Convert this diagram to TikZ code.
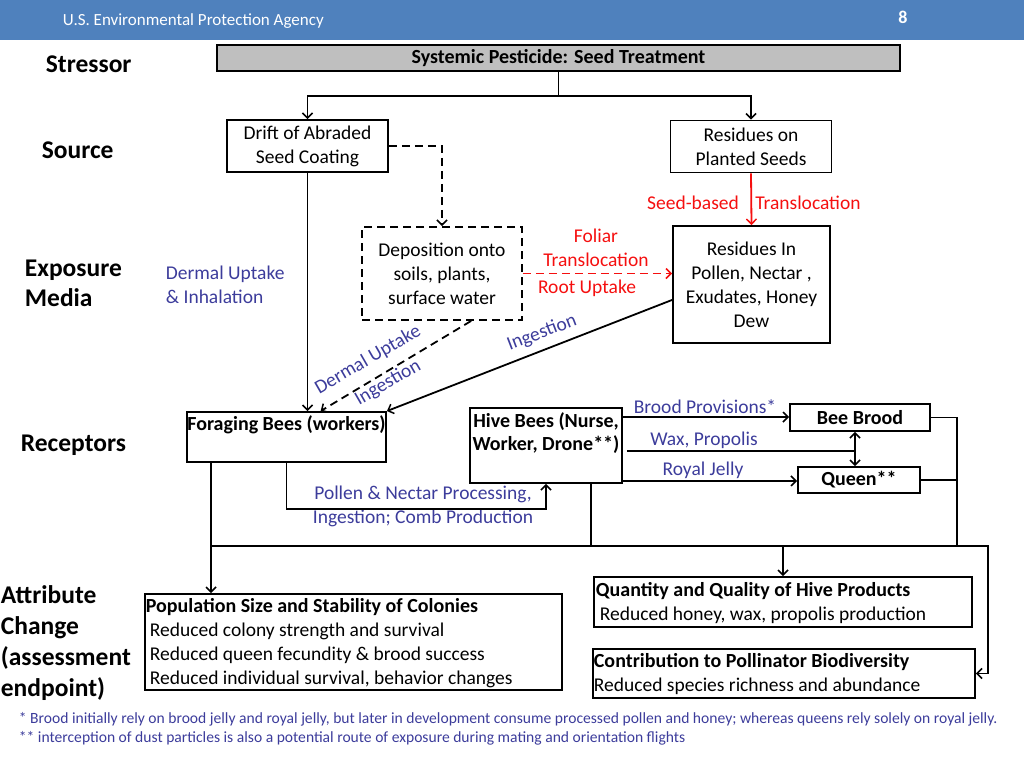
\documentclass[tikz,border=0pt]{standalone}
\usepackage{fontspec}
\setmainfont{Carlito}
\usetikzlibrary{arrows.meta,calc}
\definecolor{hdr}{RGB}{79,129,189}
\definecolor{lbl}{RGB}{60,60,155}
\definecolor{boxgray}{RGB}{191,191,191}
\definecolor{rd}{RGB}{245,15,15}
\newcommand\myfs[2]{\fontsize{#1}{#2}\selectfont}
\begin{document}
\begin{tikzpicture}[x=1pt,y=-1pt, line width=1.8pt,
 box/.style={draw, line width=1.9pt, inner sep=0pt, align=center, font=\myfs{19.5}{24}},
 arr/.style={-{Straight Barb[length=5pt,width=10pt,line width=1.5pt]}},
 dbl/.style={{Straight Barb[length=5pt,width=10pt,line width=1.5pt]}-{Straight Barb[length=5pt,width=10pt,line width=1.5pt]}},
 dsh/.style={dash pattern=on 8pt off 5pt},
 lab/.style={text=lbl, font=\myfs{19.5}{24}, inner sep=0pt},
 rlab/.style={text=rd, font=\myfs{19.5}{24}, inner sep=0pt},
 side/.style={font=\myfs{25.5}{30}\bfseries, inner sep=0pt, anchor=west, align=left},
 txt/.style={font=\myfs{19.5}{24}, inner sep=0pt, align=left},
 btxt/.style={font=\myfs{20}{23}\bfseries, inner sep=0pt, align=center}]

\useasboundingbox (0,0) rectangle (1024,768);
\fill[hdr] (0,0) rectangle (1024,40);
\node[anchor=west, text=white, font=\myfs{17}{18}, inner sep=0pt] (agency) at (62,21) {U.S. Environmental Protection Agency};
\node[text=white, font=\myfs{18}{18}\bfseries, inner sep=0pt] (pageno) at (903,17) {8};

% side labels
\node[side] (lstress) at (45,64) {Stressor};
\node[side] (lsource) at (41,150) {Source};
\node[side] (lexpo) at (24,283) {Exposure\\Media};
\node[side] (lrec) at (20,445) {Receptors};
\node[side, font=\myfs{25.5}{31}\bfseries] (lattr) at (0,643.5) {Attribute\\Change\\(assessment\\endpoint)};

% boxes
\node[box, fill=boxgray, minimum width=683pt, minimum height=26pt, font=\myfs{20}{22}\bfseries] (stress) at (558.5,58) {Systemic Pesticide: Seed Treatment};
\node[box, minimum width=161pt, minimum height=52pt] (drift) at (307.5,146) {Drift of Abraded\\Seed Coating};
\node[box, minimum width=161pt, minimum height=52pt] (resid) at (751,146.5) {Residues on\\Planted Seeds};
\node[box, dsh, minimum width=160pt, minimum height=93pt] (depo) at (442,273.5) {Deposition onto\\soils, plants,\\surface water};
\node[box, minimum width=157pt, minimum height=117pt] (resin) at (751.5,284.5) {Residues In\\Pollen, Nectar ,\\Exudates, Honey\\Dew};

\node[box, minimum width=199pt, minimum height=50pt] (forage) at (286.5,437) {};
\node[btxt] (foragetxt) at (286.5,425) {Foraging Bees (workers)};
\node[box, minimum width=152pt, minimum height=75pt] (hive) at (546,445.5) {};
\node[btxt] (hivetxt) at (546,433.5) {Hive Bees (Nurse,\\Worker, Drone**)};
\node[box, btxt, minimum width=140pt, minimum height=27pt] (brood) at (860,417.5) {Bee Brood};
\node[box, btxt, minimum width=122pt, minimum height=26pt] (queen) at (859,480) {Queen**};

\node[box, minimum width=417pt, minimum height=96pt] (pop) at (353.5,642) {};
\node[txt, anchor=west] (poptxt) at (145,643) {{\myfs{20}{24}\bfseries Population Size and Stability of Colonies}\\\hspace*{4pt}Reduced colony strength and survival\\\hspace*{4pt}Reduced queen fecundity \& brood success\\\hspace*{4pt}Reduced individual survival, behavior changes};
\node[box, minimum width=378pt, minimum height=50pt] (quant) at (783,602) {};
\node[txt, anchor=west] (quanttxt) at (595,603) {{\myfs{20}{24}\bfseries Quantity and Quality of Hive Products}\\\hspace*{4pt}Reduced honey, wax, propolis production};
\node[box, minimum width=382pt, minimum height=49pt] (contrib) at (784,673.5) {};
\node[txt, anchor=west] (contribtxt) at (593,674) {{\myfs{20}{24}\bfseries Contribution to Pollinator Biodiversity}\\Reduced species richness and abundance};

% labels
\node[rlab] (lseed) at (693,203) {Seed-based};
\node[rlab] (ltrans) at (808,203) {Translocation};
\node[rlab] (lfoliar) at (596,236) {Foliar};
\node[rlab] (lftrans) at (596,260) {Translocation};
\node[rlab] (lroot) at (587,288) {Root Uptake};
\node[lab, anchor=west, align=left] (lderm) at (165,285) {Dermal Uptake\\\& Inhalation};
\node[lab, rotate=30] (ldu) at (368,360) {Dermal Uptake};
\node[lab, rotate=30] (ling1) at (388,383) {Ingestion};
\node[lab, rotate=21] (ling2) at (542,333) {Ingestion};
\node[lab] (lbp) at (705,407) {Brood Provisions*};
\node[lab] (lwax) at (704,440) {Wax, Propolis};
\node[lab] (lrj) at (703,470) {Royal Jelly};
\node[lab] (lpn) at (423,494) {Pollen \& Nectar Processing,};
\node[lab] (lic) at (423,518) {Ingestion; Comb Production};
\node[lab, anchor=west, font=\myfs{15.6}{19}] (fn1) at (18,719) {* Brood initially rely on brood jelly and royal jelly, but later in development consume processed pollen and honey; whereas queens rely solely on royal jelly.};
\node[lab, anchor=west, font=\myfs{15.6}{19}] (fn2) at (18,738) {** interception of dust particles is also a potential route of exposure during mating and orientation flights};

% connectors
\coordinate (split) at ($(stress.south)+(0,24)$);
\draw (stress.south) -- (split);
\draw[arr] (split) -| (drift.north);
\draw[arr] (split) -| (resid.north);
\draw[arr, dsh] (drift.east) -| (depo.north);
\draw[arr, rd] (resid.south) -- (resin.north);
\draw[arr, rd, dsh] (depo.east) -- (depo.east -| resin.west);
\draw[arr] (drift.south) -- (drift.south |- forage.north);
\coordinate (dA) at ($(depo.south west)!0.68!(depo.south east)$);
\coordinate (dB) at ($(forage.north west)!0.67!(forage.north east)$);
\draw[arr, dsh] (dA) -- (dB);
\coordinate (iA) at ($(resin.north west)!0.63!(resin.south west)$);
\draw[arr] (iA) -- (forage.north east);
\draw[arr] (forage.south) -- ++(0,46) -| (hive.south);
\coordinate (bpA) at ($(hive.north east)+(0,10)$);
\draw[arr] (bpA) -- (bpA -| brood.west);
\coordinate (wx) at (855,451);
\draw ($(hive.east)+(4,5.5)$) -- (wx);
\draw[dbl] (wx |- brood.south) -- (wx |- queen.north);
\coordinate (rjA) at ($(hive.south east)+(0,-3)$);
\draw[arr] (rjA) -- (rjA -| queen.west);
\coordinate (rb) at ($(brood.east)+(26,0)$);
\coordinate (bus) at (0,546);
\draw (brood.east) -- (rb) -- (rb |- bus);
\draw (queen.east) -- (queen.east -| rb);
\coordinate (fl) at ($(forage.south west)+(25,0)$);
\draw[arr] (fl) -- (fl |- pop.north);
\coordinate (busR) at (988,546);
\draw[arr] (fl |- bus) -- (busR) |- (contrib.east);
\coordinate (hv) at ($(hive.south west)!0.79!(hive.south east)$);
\draw (hv) -- (hv |- bus);
\draw[arr] (quant.north |- bus) -- (quant.north);
\end{tikzpicture}
\end{document}
